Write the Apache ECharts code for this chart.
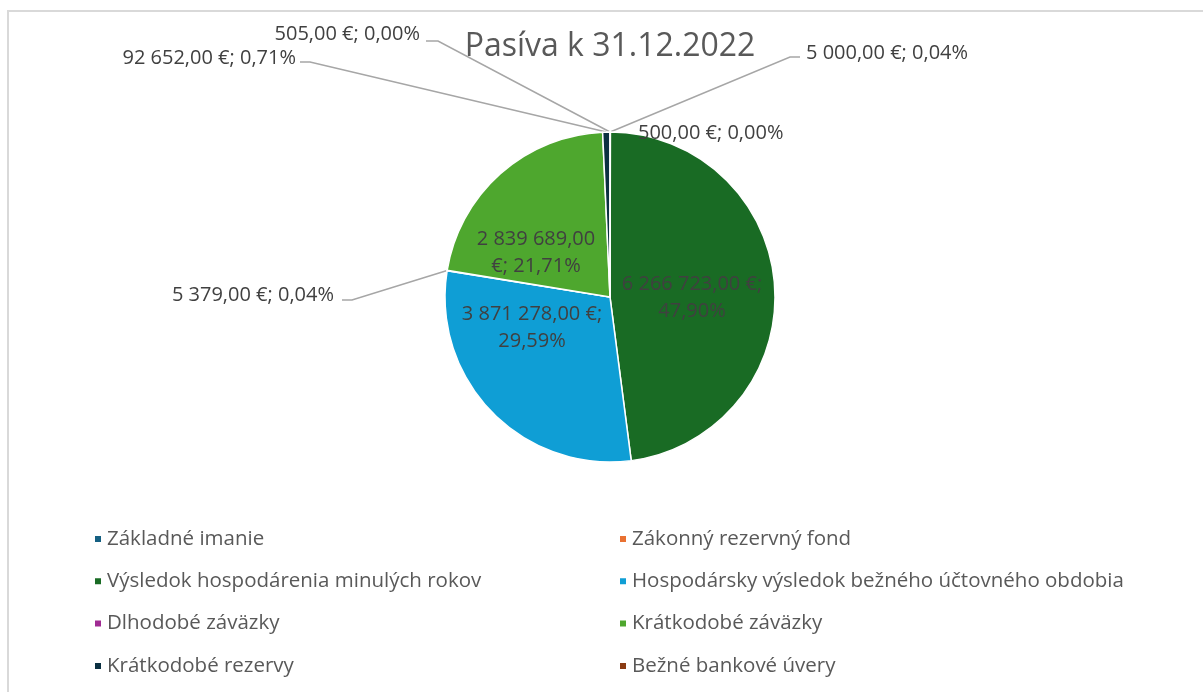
<!DOCTYPE html>
<html>
<head>
<meta charset="utf-8">
<title>Pasíva k 31.12.2022</title>
<script src="https://cdn.jsdelivr.net/npm/echarts@6/dist/echarts.min.js"></script>
<style>
  html, body { margin: 0; padding: 0; background: #ffffff; }
  #chart { width: 1203px; height: 692px; }
</style>
</head>
<body>
<div id="chart"></div>
<script>
// Pasíva k 31.12.2022 - koláčový graf

const categories = [
    'Základné imanie',
    'Zákonný rezervný fond',
    'Výsledok hospodárenia minulých rokov',
    'Hospodársky výsledok bežného účtovného obdobia',
    'Dlhodobé záväzky',
    'Krátkodobé záväzky',
    'Krátkodobé rezervy',
    'Bežné bankové úvery'
];
const values = [5000, 500, 6266723, 3871278, 5379, 2839689, 92652, 505];
const colors = ['#156082', '#E97132', '#196B24', '#0F9ED5', '#A02B93', '#4EA72E', '#0B3041', '#8A3B12'];

const FONT = '"Open Sans", "Noto Sans", sans-serif';
const total = values.reduce((a, b) => a + b, 0);

// formát 6 266 723,00 €
function money(v) {
    const parts = v.toFixed(2).split('.');
    const intPart = parts[0].replace(/\B(?=(\d{3})+(?!\d))/g, ' ');
    return intPart + ',' + parts[1] + ' €';
}
// percentá zaokrúhlené samostatne (ako Excel)
function pct(v) {
    return (v / total * 100).toFixed(2).replace('.', ',') + '%';
}

// umiestnenie popiskov (ako v Exceli)
const labelSpots = {
    0: {x: 806, y: 53, align: 'left', elbow: [790, 57], end: [800, 57]},
    1: {x: 638, y: 133, align: 'left'},
    2: {x: 692, y: 298, align: 'center'},
    3: {x: 532, y: 328, align: 'center'},
    4: {x: 334, y: 295, align: 'right', elbow: [352, 300], end: [342, 300]},
    5: {x: 536, y: 253, align: 'center'},
    6: {x: 296, y: 58, align: 'right', elbow: [310, 62], end: [300, 62]},
    7: {x: 420, y: 34, align: 'right', elbow: [438, 41], end: [426, 41]}
};
const insideIdx = [2, 3, 5];

const pieData = categories.map((name, i) => {
    const inside = insideIdx.indexOf(i) >= 0;
    return {
        name: name,
        value: values[i],
        itemStyle: {color: colors[i]},
        label: {position: inside ? 'inside' : 'outside'},
        labelLine: {show: !inside && i !== 1}
    };
});

const chart = echarts.init(document.getElementById('chart'));

const legendText = {color: '#595959', fontSize: 20.5, lineHeight: 22, fontFamily: FONT};

const option = {
    backgroundColor: '#ffffff',
    animation: false,
    title: {
        text: 'Pasíva k 31.12.2022',
        left: 610,
        top: 31,
        textAlign: 'center',
        padding: 0,
        textStyle: {
            color: '#595959',
            fontSize: 32,
            fontWeight: 'normal',
            fontFamily: FONT
        }
    },
    graphic: [{
        type: 'rect',
        shape: {x: 8, y: 11, width: 1240, height: 720},
        style: {fill: 'none', stroke: '#d9d9d9', lineWidth: 2},
        silent: true,
        z: -1
    }],
    legend: [{
        orient: 'vertical',
        left: 93,
        top: 528,
        padding: 0,
        itemWidth: 8,
        itemHeight: 8,
        itemGap: 20.3,
        icon: 'rect',
        data: [categories[0], categories[2], categories[4], categories[6]],
        textStyle: legendText
    }, {
        orient: 'vertical',
        left: 618,
        top: 528,
        padding: 0,
        itemWidth: 8,
        itemHeight: 8,
        itemGap: 20.3,
        icon: 'rect',
        data: [categories[1], categories[3], categories[5], categories[7]],
        textStyle: legendText
    }],
    series: [{
        type: 'pie',
        center: [610, 297],
        radius: 165,
        startAngle: 90,
        clockwise: true,
        avoidLabelOverlap: false,
        minShowLabelAngle: 0,
        itemStyle: {borderColor: '#ffffff', borderWidth: 1.5},
        label: {
            show: true,
            color: '#404040',
            fontSize: 20,
            lineHeight: 27,
            fontFamily: FONT,
            formatter: function (p) {
                const m = money(p.value);
                const pc = pct(p.value);
                if (p.dataIndex === 5) {
                    return m.replace(' €', '') + '\n€; ' + pc;
                }
                if (insideIdx.indexOf(p.dataIndex) >= 0) {
                    return m + ';\n' + pc;
                }
                return m + '; ' + pc;
            }
        },
        labelLine: {
            show: true,
            length: 10,
            length2: 10,
            lineStyle: {color: '#A6A6A6', width: 1.5}
        },
        labelLayout: function (params) {
            const s = labelSpots[params.dataIndex];
            const res = {x: s.x, y: s.y, align: s.align, verticalAlign: 'middle'};
            if (s.elbow && params.labelLinePoints) {
                res.labelLinePoints = [params.labelLinePoints[0], s.elbow, s.end];
            }
            return res;
        },
        data: pieData
    }]
};

chart.setOption(option);
</script>
</body>
</html>
